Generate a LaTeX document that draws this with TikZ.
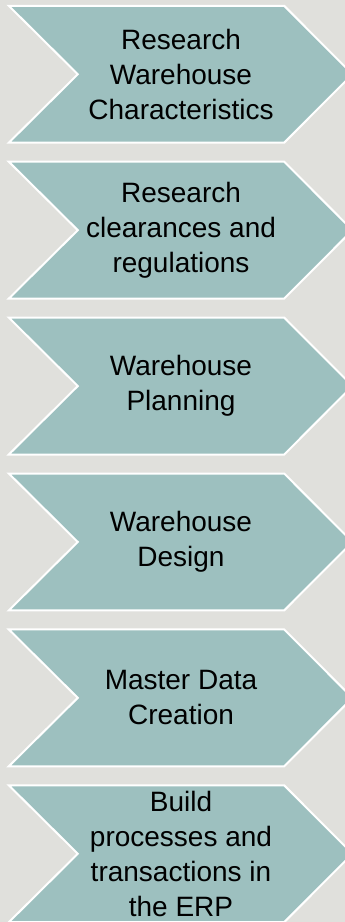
\documentclass[tikz,border=0pt]{standalone}
\usepackage{fontspec}
\setmainfont{Liberation Sans}
\usetikzlibrary{positioning,backgrounds}

\definecolor{stepfill}{RGB}{157,192,191}
\definecolor{pagegray}{RGB}{224,224,220}

\begin{document}
\begin{tikzpicture}[x=1pt,y=-1pt,
        stepnode/.style={minimum width=206pt,minimum height=136.5pt,inner sep=0pt,
                align=center,font=\fontsize{28}{35}\selectfont},
        chevron/.style={fill=stepfill,draw=white,line width=2pt,line join=miter}]
        \useasboundingbox (0,0) rectangle (345,922);

        \node[stepnode] (s1) at (181,74.25) {Research\\Warehouse\\Characteristics};
        \node[stepnode, below = 19pt of s1] (s2) {Research\\clearances and\\regulations};
        \node[stepnode, below = 19pt of s2] (s3) {Warehouse\\Planning};
        \node[stepnode, below = 19pt of s3] (s4) {Warehouse\\Design};
        \node[stepnode, below = 19pt of s4] (s5) {Master Data\\Creation};
        \node[stepnode, below = 19pt of s5] (s6) {Build\\processes and\\transactions in\\the ERP};

        \begin{scope}[on background layer]
                \fill[pagegray] (0,0) rectangle (345,922);
                \clip (0,0) rectangle (345,922);
                \foreach \s in {s1,s2,s3,s4,s5,s6}
                        \draw[chevron] ([xshift=-69pt]\s.north west) -- (\s.north east)
                                -- ([xshift=68.25pt]\s.east) -- (\s.south east)
                                -- ([xshift=-69pt]\s.south west) -- (\s.west) -- cycle;
        \end{scope}

        \end{tikzpicture}
\end{document}
